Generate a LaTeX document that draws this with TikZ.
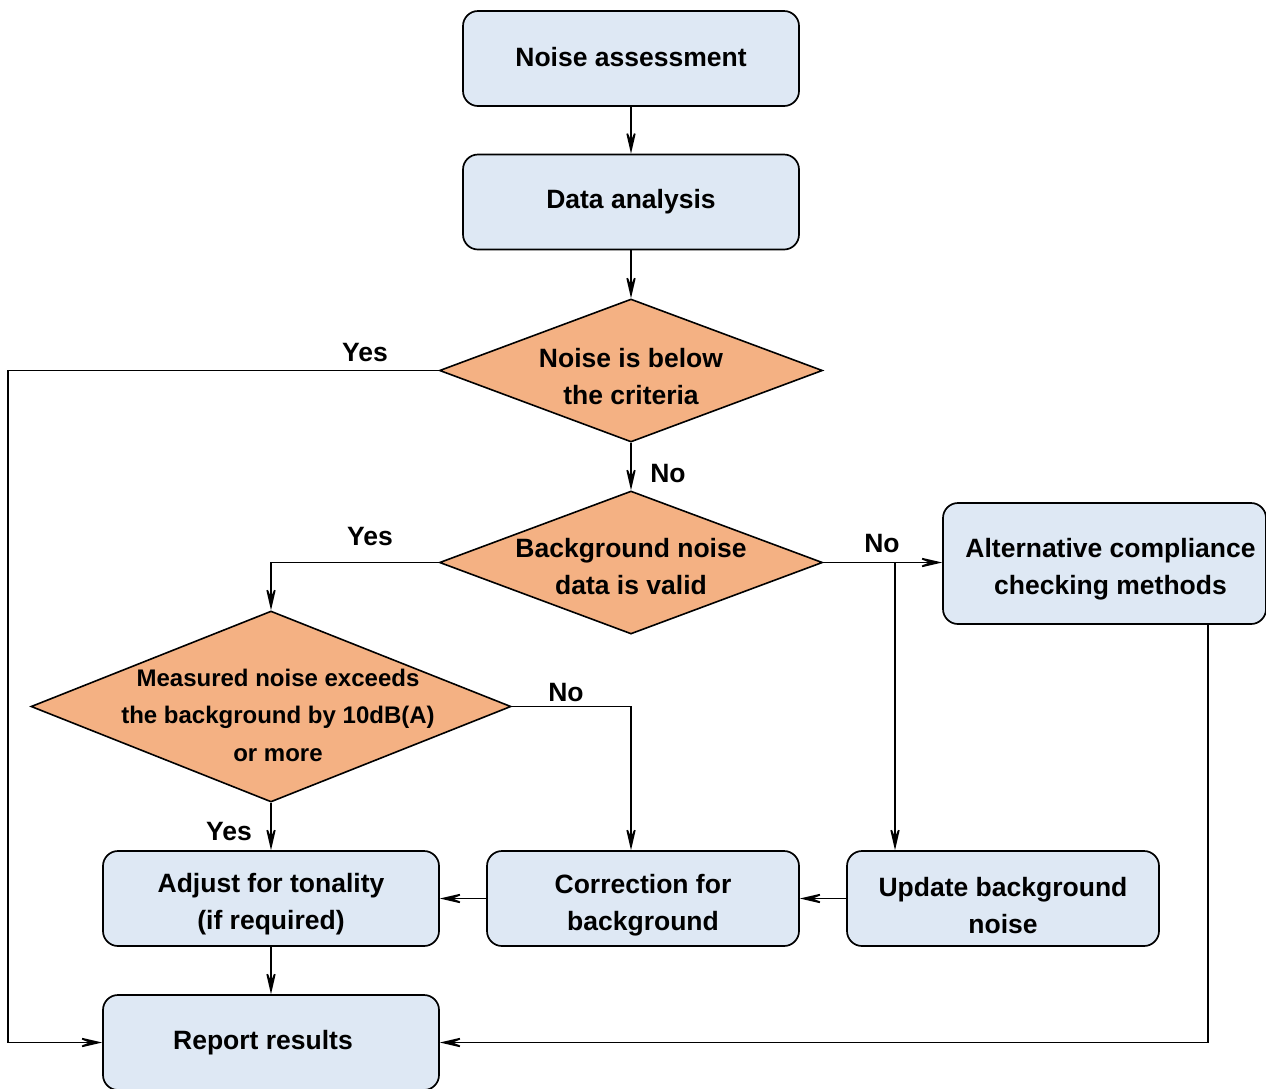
\documentclass[tikz,border=0pt]{standalone}
\usepackage{fontspec}
\setmainfont{Liberation Sans}
\usetikzlibrary{shapes.geometric,arrows.meta}
\definecolor{boxblue}{HTML}{DEE8F4}
\definecolor{decorange}{HTML}{F4B183}
\begin{document}
\begin{tikzpicture}[x=1pt,y=-1pt,
  every node/.style={font=\fontsize{26.5}{37}\selectfont\bfseries},
  procbox/.style={draw=black, line width=1.7pt, fill=boxblue, rounded corners=15pt,
    minimum width=336pt, minimum height=95pt, align=center, inner sep=0pt},
  decision/.style={draw=black, line width=1.6pt, fill=decorange, diamond,
    inner sep=0pt, minimum width=383pt, minimum height=143pt},
  dtext/.style={align=center, inner sep=0pt},
  lbl/.style={inner sep=0pt},
  conn/.style={line width=1.7pt, -{Stealth[length=30pt,width=14pt,inset=17pt]}}
]
\useasboundingbox (0,0) rectangle (1266,1088);

% nodes
\node[procbox] (na) at (631,58.5) {\raisebox{4pt}{Noise assessment}};
\node[procbox] (da) at (631,202) {Data analysis};
\node[decision] (d1) at (631,370.5) {};
\node[dtext] (t1) at (631,377) {Noise is below\\the criteria};
\node[decision] (d2) at (631,562.5) {};
\node[dtext] (t2) at (631,566.5) {Background noise\\data is valid};
\node[procbox, minimum width=323pt, minimum height=121pt] (alt) at (1104.5,563.5) {\rule{0pt}{31pt}\hspace*{12pt}Alternative compliance\\\hspace*{12pt}checking methods};
\node[decision, minimum width=480pt, minimum height=191pt] (d3) at (271,706.5) {};
\node[dtext, font=\fontsize{24}{37.5}\selectfont\bfseries] (t3) at (278,715) {Measured noise exceeds\\the background by 10dB(A)\\or more};
\node[procbox] (adj) at (271,898.5) {\rule{0pt}{31pt}Adjust for tonality\\(if required)};
\node[procbox, minimum width=312pt] (cor) at (643,898.5) {\rule{0pt}{32pt}Correction for\\background};
\node[procbox, minimum width=312pt] (upd) at (1003,898.5) {\rule{0pt}{33pt}Update background\\noise};
\node[procbox] (rep) at (271,1042.5) {Report results\hspace*{16pt}};

% helper coordinates
\coordinate (l1) at (8,370.5);
\coordinate (br) at (895,562.5);
\coordinate (c3) at (631,706.5);
\coordinate (a1) at (1208,0);

% connectors
\draw[conn] (na.south) -- (da.north);
\draw[conn] (da.south) -- (d1.north);
\draw[conn] (d1.south) -- (d2.north);
\draw[conn] (d1.west) -- (l1) |- (rep.west);
\draw[conn] (d2.west) -| (d3.north);
\draw[conn] (d2.east) -- (alt.west |- d2.east);
\draw[conn] (br) -- (br |- upd.north);
\draw[conn] (d3.east) -- (c3) -- (c3 |- cor.north);
\draw[conn] (d3.south) -- (adj.north);
\draw[conn] (upd.west) -- (cor.east);
\draw[conn] (cor.west) -- (adj.east);
\draw[conn] (adj.south) -- (rep.north);
\draw[conn] (alt.south -| a1) |- (rep.east);

% labels
\node[lbl] (y1) at (365,353) {Yes};
\node[lbl] (n1) at (668,474) {No};
\node[lbl] (y2) at (370,537) {Yes};
\node[lbl] (n2) at (882,544) {No};
\node[lbl] (n3) at (566,692) {No};
\node[lbl] (y3) at (229,831) {Yes};
\end{tikzpicture}
\end{document}
